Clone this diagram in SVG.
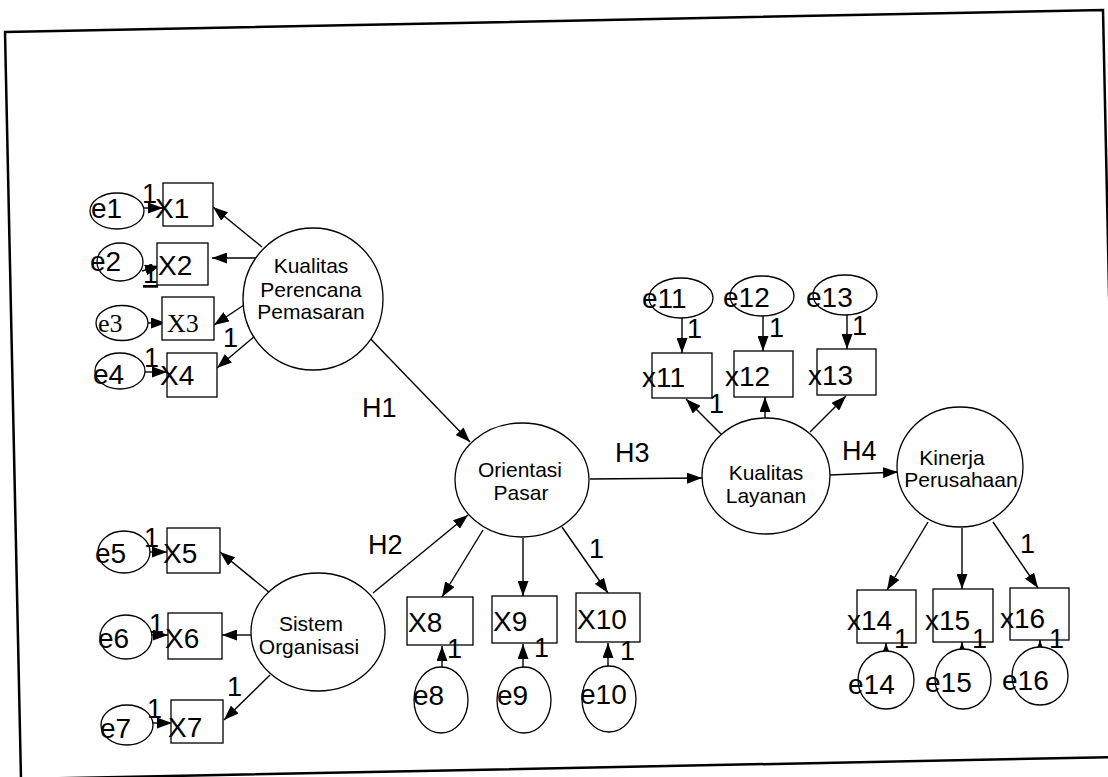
<svg xmlns="http://www.w3.org/2000/svg" width="1108" height="777" viewBox="0 0 1108 777">
<defs>
<marker id="ah" markerUnits="userSpaceOnUse" markerWidth="15" markerHeight="11" refX="15" refY="5.5" orient="auto">
<path d="M0,0 L15,5.5 L0,11 z" fill="#000"/>
</marker>
</defs>
<style>
.bg{fill:#fff}
.frame{fill:none;stroke:#000;stroke-width:2.5}
.n{fill:#fff;stroke:#000;stroke-width:1.3}
.c line{stroke:#000;stroke-width:1.4;marker-end:url(#ah)}
.t{font-family:"Liberation Sans",Arial,sans-serif;font-size:28px;fill:#000}
.ts{font-family:"Liberation Serif","Times New Roman",serif;font-size:26px;fill:#000}
.l{font-family:"Liberation Sans",Arial,sans-serif;font-size:21px;fill:#000;text-anchor:middle}
.o{font-family:"Liberation Sans",Arial,sans-serif;font-size:27px;fill:#000}
</style>
<rect class="bg" x="0" y="0" width="1108" height="777"/>
<polygon class="frame" points="5,32 1103,10 1119,757 21,779"/>

<g id="connectors" class="c">
<line x1="143" y1="208" x2="163" y2="208"/>
<line x1="142" y1="271" x2="160" y2="266"/>
<line x1="148" y1="323" x2="166" y2="323"/>
<line x1="145" y1="372" x2="167" y2="372"/>
<line x1="262" y1="247" x2="213" y2="207"/>
<line x1="258" y1="258" x2="212" y2="258"/>
<line x1="247" y1="303" x2="214" y2="325"/>
<line x1="262" y1="330" x2="217" y2="368"/>
<line x1="362" y1="330" x2="470" y2="442"/>
<line x1="150" y1="552" x2="167" y2="552"/>
<line x1="152" y1="635" x2="168" y2="635"/>
<line x1="153" y1="723" x2="172" y2="723"/>
<line x1="270" y1="593" x2="220" y2="552"/>
<line x1="252" y1="635" x2="222" y2="635"/>
<line x1="270" y1="675" x2="224" y2="720"/>
<line x1="373" y1="593" x2="468" y2="515"/>
<line x1="483" y1="530" x2="442" y2="597"/>
<line x1="523" y1="538" x2="523" y2="596"/>
<line x1="562" y1="527" x2="608" y2="593"/>
<line x1="442" y1="667" x2="442" y2="646"/>
<line x1="523" y1="667" x2="523" y2="644"/>
<line x1="608" y1="666" x2="608" y2="643"/>
<line x1="590" y1="479" x2="702" y2="478"/>
<line x1="682" y1="318" x2="682" y2="353"/>
<line x1="763" y1="316" x2="763" y2="351"/>
<line x1="847" y1="315" x2="847" y2="349"/>
<line x1="722" y1="435" x2="686" y2="399"/>
<line x1="765" y1="420" x2="765" y2="397"/>
<line x1="810" y1="432" x2="846" y2="396"/>
<line x1="830" y1="475" x2="898" y2="472"/>
<line x1="928" y1="522" x2="887" y2="590"/>
<line x1="962" y1="528" x2="962" y2="589"/>
<line x1="993" y1="522" x2="1038" y2="588"/>
<line x1="886" y1="652" x2="886" y2="643"/>
<line x1="962" y1="650" x2="962" y2="642"/>
<line x1="1040" y1="648" x2="1040" y2="640"/>
</g>

<g id="e1"><ellipse class="n" cx="117" cy="211" rx="27" ry="18"/><text class="t" x="91" y="218">e1</text></g>
<g id="e2"><ellipse class="n" cx="120" cy="262" rx="23" ry="19"/><text class="t" x="90" y="271">e2</text></g>
<g id="e3"><ellipse class="n" cx="122" cy="323" rx="26" ry="17.5"/><text class="ts" x="98" y="332">e3</text></g>
<g id="e4"><ellipse class="n" cx="120" cy="371" rx="25" ry="18"/><text class="t" x="93" y="384">e4</text></g>
<g id="e5"><ellipse class="n" cx="124" cy="552" rx="26" ry="21"/><text class="t" x="95" y="563">e5</text></g>
<g id="e6"><ellipse class="n" cx="126" cy="637" rx="26" ry="22"/><text class="t" x="98" y="648">e6</text></g>
<g id="e7"><ellipse class="n" cx="127" cy="725" rx="26" ry="20"/><text class="t" x="100" y="738">e7</text></g>
<g id="e8"><ellipse class="n" cx="441" cy="700" rx="27" ry="33"/><text class="t" x="413" y="705">e8</text></g>
<g id="e9"><ellipse class="n" cx="524" cy="700" rx="27" ry="33"/><text class="t" x="497" y="705">e9</text></g>
<g id="e10"><ellipse class="n" cx="609" cy="699" rx="27" ry="33"/><text class="t" x="580" y="704">e10</text></g>
<g id="e11"><ellipse class="n" cx="681" cy="298" rx="32" ry="20"/><text class="t" x="642" y="308">e11</text></g>
<g id="e12"><ellipse class="n" cx="762" cy="296" rx="32" ry="20"/><text class="t" x="723" y="307">e12</text></g>
<g id="e13"><ellipse class="n" cx="845" cy="295" rx="32" ry="20"/><text class="t" x="806" y="307">e13</text></g>
<g id="e14"><ellipse class="n" cx="886" cy="680" rx="28" ry="29"/><text class="t" x="848" y="694">e14</text></g>
<g id="e15"><ellipse class="n" cx="963" cy="679" rx="28" ry="30"/><text class="t" x="925" y="692">e15</text></g>
<g id="e16"><ellipse class="n" cx="1040" cy="676" rx="28" ry="29"/><text class="t" x="1002" y="690">e16</text></g>

<g id="X1"><rect class="n" x="163" y="183" width="50" height="43"/><text class="t" x="155" y="218">X1</text></g>
<g id="X2"><rect class="n" x="157" y="243" width="51" height="42"/><text class="t" x="158" y="275">X2</text></g>
<g id="X3"><rect class="n" x="162" y="297" width="52" height="43"/><text class="ts" x="167" y="332">X3</text></g>
<g id="X4"><rect class="n" x="167" y="353" width="50" height="44"/><text class="t" x="160" y="385">X4</text></g>
<g id="X5"><rect class="n" x="167" y="528" width="53" height="45"/><text class="t" x="163" y="563">X5</text></g>
<g id="X6"><rect class="n" x="168" y="613" width="54" height="46"/><text class="t" x="165" y="648">X6</text></g>
<g id="X7"><rect class="n" x="171" y="700" width="52" height="43"/><text class="t" x="168" y="737">X7</text></g>
<g id="X8"><rect class="n" x="407" y="597" width="66" height="48"/><text class="t" x="408" y="632">X8</text></g>
<g id="X9"><rect class="n" x="492" y="596" width="65" height="47"/><text class="t" x="493" y="631">X9</text></g>
<g id="X10"><rect class="n" x="576" y="593" width="64" height="49"/><text class="t" x="577" y="629" font-size="27">X10</text></g>
<g id="x11"><rect class="n" x="652" y="353" width="60" height="45"/><text class="t" x="642" y="387">x11</text></g>
<g id="x12"><rect class="n" x="734" y="351" width="59" height="46"/><text class="t" x="725" y="386">x12</text></g>
<g id="x13"><rect class="n" x="817" y="349" width="59" height="46"/><text class="t" x="808" y="385">x13</text></g>
<g id="x14"><rect class="n" x="857" y="590" width="59" height="53"/><text class="t" x="847" y="630">x14</text></g>
<g id="x15"><rect class="n" x="933" y="589" width="60" height="53"/><text class="t" x="925" y="630">x15</text></g>
<g id="x16"><rect class="n" x="1010" y="588" width="59" height="52"/><text class="t" x="1000" y="628">x16</text></g>

<g id="KualitasPerencanaPemasaran"><ellipse class="n" cx="313" cy="299" rx="70" ry="71"/>
<text class="l" x="311" y="273">Kualitas</text><text class="l" x="311" y="297">Perencana</text><text class="l" x="311" y="319">Pemasaran</text></g>
<g id="SistemOrganisasi"><ellipse class="n" cx="318" cy="632" rx="67" ry="59"/>
<text class="l" x="311" y="631">Sistem</text><text class="l" x="309" y="654">Organisasi</text></g>
<g id="OrientasiPasar"><ellipse class="n" cx="522" cy="480" rx="67" ry="57"/>
<text class="l" x="520" y="477">Orientasi</text><text class="l" x="521" y="500">Pasar</text></g>
<g id="KualitasLayanan"><ellipse class="n" cx="766" cy="476" rx="64" ry="58"/>
<text class="l" x="766" y="480">Kualitas</text><text class="l" x="766" y="503">Layanan</text></g>
<g id="KinerjaPerusahaan"><ellipse class="n" cx="960" cy="467" rx="63" ry="60"/>
<text class="l" x="952" y="465">Kinerja</text><text class="l" x="961" y="487">Perusahaan</text></g>

<g id="labels">
<text class="o" x="142" y="203">1</text>
<text class="o" x="143" y="283" text-decoration="underline">1</text>
<text class="o" x="223" y="347">1</text>
<text class="o" x="144" y="367">1</text>
<text class="o" x="144" y="547">1</text>
<text class="o" x="149" y="633">1</text>
<text class="o" x="147" y="718">1</text>
<text class="o" x="227" y="696">1</text>
<text class="o" x="589" y="558">1</text>
<text class="o" x="447" y="658">1</text>
<text class="o" x="534" y="657">1</text>
<text class="o" x="620" y="660" font-size="25">1</text>
<text class="o" x="687" y="338">1</text>
<text class="o" x="769" y="337">1</text>
<text class="o" x="852" y="335">1</text>
<text class="o" x="709" y="413">1</text>
<text class="o" x="1020" y="553">1</text>
<text class="o" x="894" y="648">1</text>
<text class="o" x="972" y="648">1</text>
<text class="o" x="1049" y="648">1</text>
<text class="o" x="362" y="417">H1</text>
<text class="o" x="368" y="554">H2</text>
<text class="o" x="615" y="462">H3</text>
<text class="o" x="842" y="460">H4</text>
</g>
</svg>
